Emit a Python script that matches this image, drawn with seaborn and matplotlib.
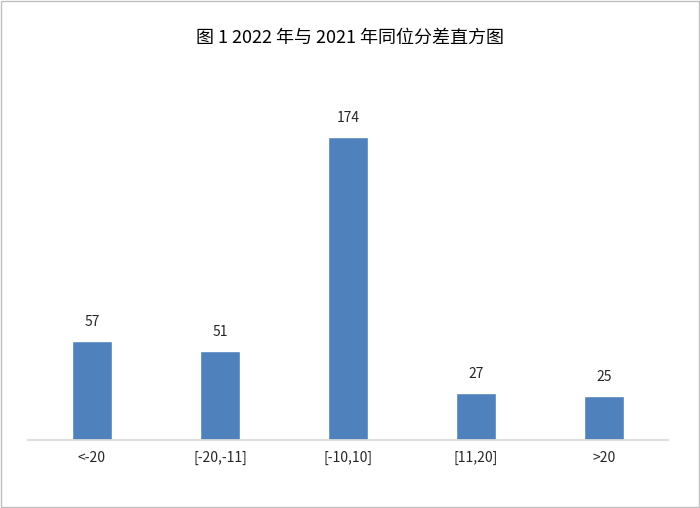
import matplotlib
matplotlib.use("Agg")
import matplotlib.pyplot as plt
import seaborn as sns

categories = ['<-20', '[-20,-11]', '[-10,10]', '[11,20]', '>20']
counts = [57, 51, 174, 27, 25]

sns.set_theme(style="white")
plt.rcParams['font.family'] = ['Noto Sans CJK SC', 'DejaVu Sans']

fig = plt.figure(figsize=(7, 5.08), dpi=100)
ax = fig.add_axes([0.04, 0.134, 0.914, 0.685])
sns.barplot(x=categories, y=counts, color='#4f81bd', width=0.31, ax=ax, saturation=1)
ax.set_ylim(0, 200)
ax.set_xlim(-0.5, 4.5)
for i, v in enumerate(counts):
    ax.text(i, v + 7, str(v), ha='center', va='bottom', fontsize=10, color='#262626')
for s in ['top', 'right', 'left']:
    ax.spines[s].set_visible(False)
ax.spines['bottom'].set_color('#d9d9d9')
ax.set_yticks([])
ax.set_xlabel('')
ax.set_ylabel('')
ax.tick_params(axis='x', labelsize=10, colors='#262626', length=0, pad=8)
fig.text(0.5, 0.925, '图 1 2022 年与 2021 年同位分差直方图', ha='center', va='center',
         fontsize=13, color='#000000')
fig.patches.append(plt.Rectangle((0.002, 0.002), 0.996, 0.996, transform=fig.transFigure,
                                 fill=False, edgecolor='#bfbfbf', linewidth=1))
fig.savefig('out.png', dpi=100)
